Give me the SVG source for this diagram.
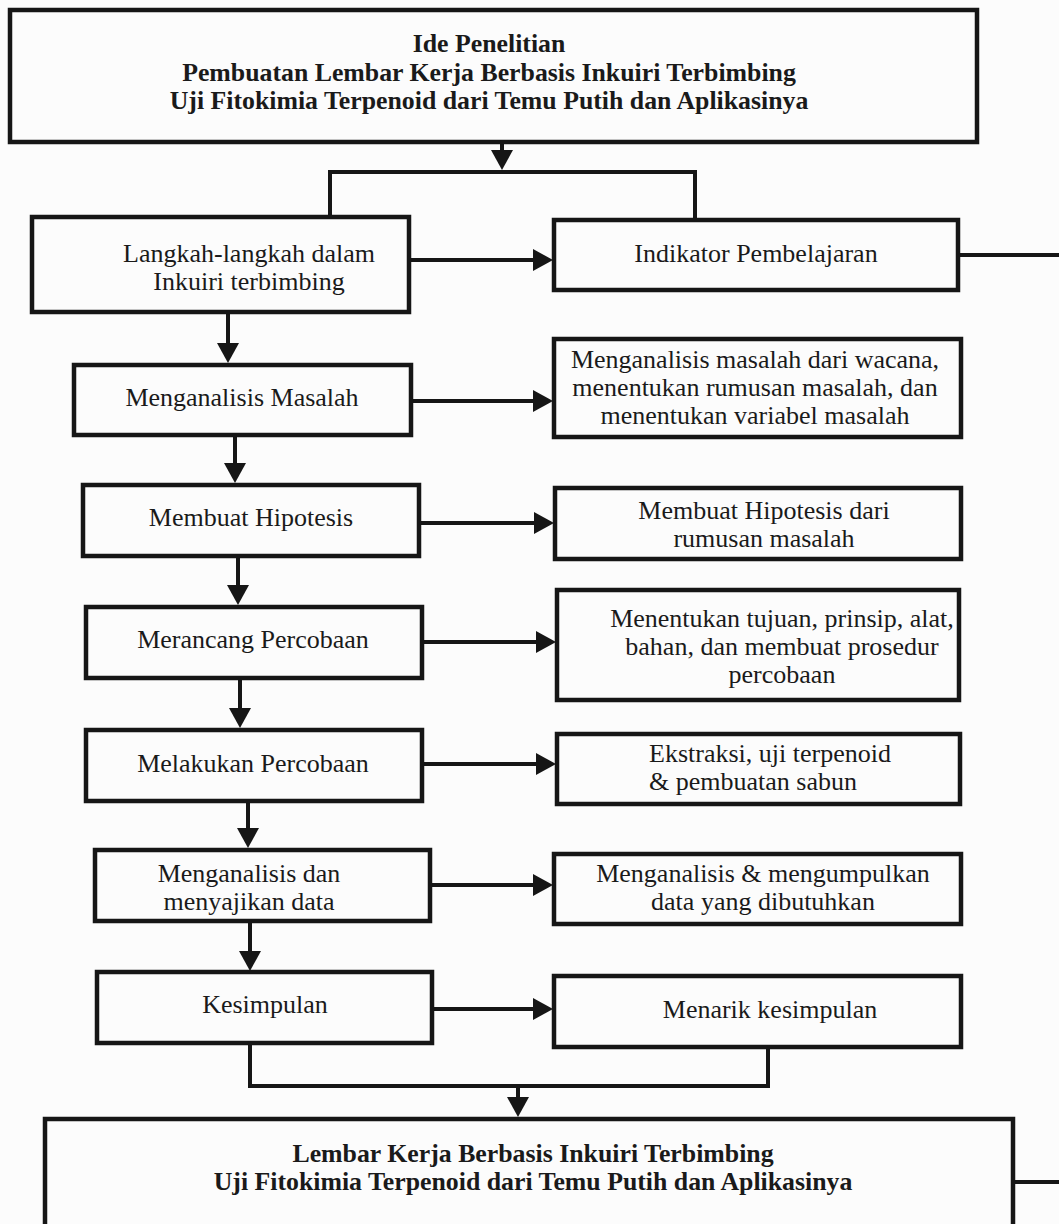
<svg xmlns="http://www.w3.org/2000/svg" width="1059" height="1224" viewBox="0 0 1059 1224">
<style>
.box{fill:none;stroke:#161616;stroke-width:4.5}
.t{font-family:"Liberation Serif","Times New Roman",serif;font-size:26px;fill:#1a1a1a;text-anchor:middle}
.b{font-family:"Liberation Serif","Times New Roman",serif;font-size:25.8px;font-weight:bold;fill:#1a1a1a;text-anchor:middle}
.c{fill:none;stroke:#161616;stroke-width:4}
.a{fill:none;stroke:#161616;stroke-width:4;marker-end:url(#ah)}
</style>
<defs>
<marker id="ah" viewBox="0 0 20 22" refX="0" refY="11" markerWidth="20" markerHeight="22" markerUnits="userSpaceOnUse" orient="auto">
<path d="M0,0 L20,11 L0,22 Z" fill="#161616"/>
</marker>
</defs>
<rect width="1059" height="1224" fill="#fcfcfc"/>
<g id="connectors">
<path class="a" d="M502,144 L502,150"/>
<path class="c" d="M330,217 L330,172 L695,172 L695,220"/>
<path class="a" d="M409,260 L533,260"/>
<path class="c" d="M958,255 L1059,255"/>
<path class="a" d="M228,312 L228,343"/>
<path class="a" d="M411,401 L533,401"/>
<path class="a" d="M235,435 L235,463"/>
<path class="a" d="M419,523 L534,523"/>
<path class="a" d="M238,556 L238,585"/>
<path class="a" d="M422,642 L536,642"/>
<path class="a" d="M240,678 L240,708"/>
<path class="a" d="M422,764 L536,764"/>
<path class="a" d="M248,801 L248,828"/>
<path class="a" d="M430,885 L533,885"/>
<path class="a" d="M250,921 L250,951"/>
<path class="a" d="M432,1009 L533,1009"/>
<path class="c" d="M250,1043 L250,1086 L768,1086 L768,1047"/>
<path class="a" d="M518,1086 L518,1097"/>
<path class="c" d="M1013,1182 L1059,1182"/>
</g>
<g id="ide">
<rect class="box" x="10" y="10" width="967" height="132"/>
<text class="b" x="489" y="52">Ide Penelitian</text>
<text class="b" x="489" y="81">Pembuatan Lembar Kerja Berbasis Inkuiri Terbimbing</text>
<text class="b" x="489" y="109">Uji Fitokimia Terpenoid dari Temu Putih dan Aplikasinya</text>
</g>
<g id="langkah">
<rect class="box" x="32" y="217" width="377" height="95"/>
<text class="t" x="249" y="262">Langkah-langkah dalam</text>
<text class="t" x="249" y="290">Inkuiri terbimbing</text>
</g>
<g id="indikator">
<rect class="box" x="554" y="220" width="404" height="70"/>
<text class="t" x="756" y="262">Indikator Pembelajaran</text>
</g>
<g id="menganalisis-masalah">
<rect class="box" x="74" y="365" width="337" height="70"/>
<text class="t" x="242" y="406">Menganalisis Masalah</text>
</g>
<g id="ind-masalah">
<rect class="box" x="554" y="339" width="407" height="98"/>
<text class="t" x="755" y="368">Menganalisis masalah dari wacana,</text>
<text class="t" x="755" y="396">menentukan rumusan masalah, dan</text>
<text class="t" x="755" y="424">menentukan variabel masalah</text>
</g>
<g id="hipotesis">
<rect class="box" x="83" y="485" width="336" height="71"/>
<text class="t" x="251" y="526">Membuat Hipotesis</text>
</g>
<g id="ind-hipotesis">
<rect class="box" x="555" y="488" width="406" height="71"/>
<text class="t" x="764" y="519">Membuat Hipotesis dari</text>
<text class="t" x="764" y="547">rumusan masalah</text>
</g>
<g id="merancang">
<rect class="box" x="86" y="607" width="336" height="71"/>
<text class="t" x="253" y="648">Merancang Percobaan</text>
</g>
<g id="ind-merancang">
<rect class="box" x="557" y="590" width="402" height="110"/>
<text class="t" x="782" y="627">Menentukan tujuan, prinsip, alat,</text>
<text class="t" x="782" y="655">bahan, dan membuat prosedur</text>
<text class="t" x="782" y="683">percobaan</text>
</g>
<g id="melakukan">
<rect class="box" x="86" y="730" width="336" height="71"/>
<text class="t" x="253" y="772">Melakukan Percobaan</text>
</g>
<g id="ind-melakukan">
<rect class="box" x="557" y="734" width="403" height="70"/>
<text class="t" x="770" y="762">Ekstraksi, uji terpenoid</text>
<text class="t" x="753" y="790">&amp; pembuatan sabun</text>
</g>
<g id="menganalisis-data">
<rect class="box" x="95" y="850" width="335" height="71"/>
<text class="t" x="249" y="882">Menganalisis dan</text>
<text class="t" x="249" y="910">menyajikan data</text>
</g>
<g id="ind-data">
<rect class="box" x="554" y="854" width="407" height="70"/>
<text class="t" x="763" y="882">Menganalisis &amp; mengumpulkan</text>
<text class="t" x="763" y="910">data yang dibutuhkan</text>
</g>
<g id="kesimpulan">
<rect class="box" x="97" y="972" width="335" height="71"/>
<text class="t" x="265" y="1013">Kesimpulan</text>
</g>
<g id="ind-kesimpulan">
<rect class="box" x="554" y="976" width="407" height="71"/>
<text class="t" x="770" y="1018">Menarik kesimpulan</text>
</g>
<g id="lembar-kerja">
<rect class="box" x="45" y="1119" width="968" height="110"/>
<text class="b" x="533" y="1162">Lembar Kerja Berbasis Inkuiri Terbimbing</text>
<text class="b" x="533" y="1190">Uji Fitokimia Terpenoid dari Temu Putih dan Aplikasinya</text>
</g>
</svg>
